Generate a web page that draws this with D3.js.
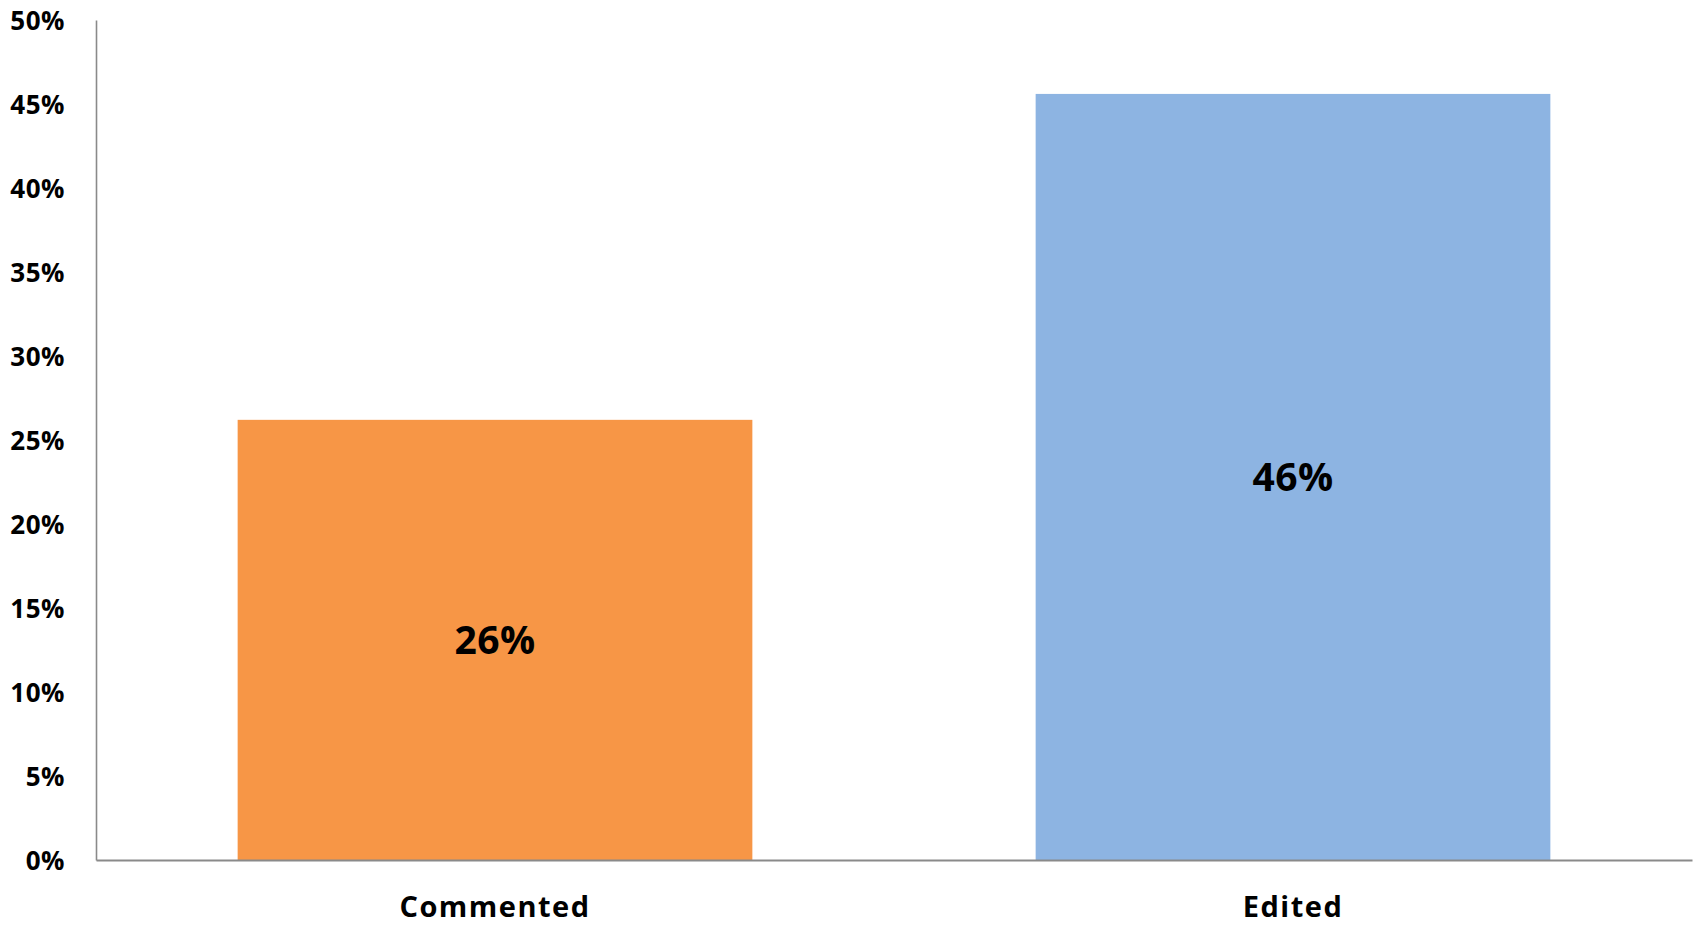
<!DOCTYPE html>
<html>
<head>
<meta charset="utf-8">
<script src="https://cdn.jsdelivr.net/npm/d3@7"></script>
<style>
  html, body { margin: 0; padding: 0; background: #fff; }
  svg { display: block; }
  text { font-family: "Open Sans", "Noto Sans", sans-serif; font-weight: 700; fill: #000; }
</style>
</head>
<body>
<svg id="chart" width="1696" height="925"></svg>
<script>
// Share of responses by action
const categories = ["Commented", "Edited"];
const shares = [0.262, 0.456];
const barColors = ["#F79646", "#8DB4E2"];
const tickValues = [0, 0.05, 0.10, 0.15, 0.20, 0.25, 0.30, 0.35, 0.40, 0.45, 0.50];

const width = 1696, height = 925;
const margin = { top: 20, right: 4, bottom: 65, left: 96 };
const plotBottom = height - margin.bottom;

const svg = d3.select("#chart");

const x = d3.scaleBand()
  .domain(categories)
  .range([margin.left, width - margin.right])
  .paddingInner(0.355)
  .paddingOuter(0.355 / 2);

const y = d3.scaleLinear()
  .domain([0, 0.5])
  .range([plotBottom, margin.top]);

const fmt = d3.format(".0%");

// Bars
svg.append("g")
  .selectAll("rect")
  .data(categories)
  .join("rect")
  .attr("x", d => x(d))
  .attr("width", x.bandwidth())
  .attr("y", (d, i) => y(shares[i]))
  .attr("height", (d, i) => y(0) - y(shares[i]))
  .attr("fill", (d, i) => barColors[i]);

// Value labels, centred inside each bar
svg.append("g")
  .selectAll("text")
  .data(categories)
  .join("text")
  .attr("x", d => x(d) + x.bandwidth() / 2)
  .attr("y", (d, i) => (y(shares[i]) + y(0)) / 2)
  .attr("dy", "0.37em")
  .attr("text-anchor", "middle")
  .style("font-size", "39px")
  .style("letter-spacing", "0.5px")
  .text((d, i) => fmt(shares[i]));

// Y axis: line plus percentage labels, no tick marks
const yAxis = svg.append("g")
  .attr("transform", `translate(${margin.left},0)`)
  .call(d3.axisLeft(y).tickValues(tickValues).tickFormat(fmt).tickSize(0).tickPadding(31));
yAxis.select(".domain").attr("stroke", "#8A8A8A").attr("stroke-width", 1.6);
yAxis.selectAll(".tick text")
  .attr("fill", "#000")
  .style("font-size", "26px")
  .style("font-family", "'Open Sans', sans-serif")
  .style("font-weight", "700")
  .style("letter-spacing", "0.5px")
  .attr("dy", "0.357em");

// X axis: baseline plus category labels
const xAxis = svg.append("g")
  .attr("transform", `translate(0,${plotBottom})`)
  .call(d3.axisBottom(x).tickSize(0).tickPadding(0).tickSizeOuter(0));
xAxis.select(".domain").attr("stroke", "#8A8A8A").attr("stroke-width", 1.8);
xAxis.selectAll(".tick text")
  .attr("fill", "#000")
  .attr("y", 57)
  .attr("dy", 0)
  .style("font-size", "29px")
  .style("font-family", "'Open Sans', sans-serif")
  .style("font-weight", "700")
  .style("letter-spacing", "1.5px");
</script>
</body>
</html>
